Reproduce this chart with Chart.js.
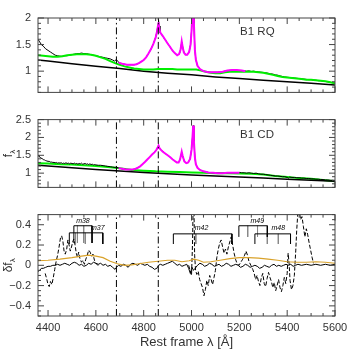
<!DOCTYPE html>
<html><head><meta charset="utf-8">
<script src="https://cdn.jsdelivr.net/npm/chart.js@4/dist/chart.umd.min.js"></script>
<style>
html,body{margin:0;padding:0;background:#fff;}
#wrap{position:relative;width:354px;height:354px;background:#fff;overflow:hidden;}
canvas{position:absolute;left:0;}
</style></head><body>
<div id="wrap">
<canvas id="c1" width="354" height="106" style="top:0px"></canvas>
<canvas id="c2" width="354" height="95" style="top:106px"></canvas>
<canvas id="c3" width="354" height="153" style="top:201px"></canvas>
</div>
<script>
// ---------- DATA ----------
const xRange = [4358, 5600];
const xTicks = [4400, 4600, 4800, 5000, 5200, 5400, 5600];
const refLines = [4686, 4861];               // He II, H beta
const panelLabels = ['B1 RQ', 'B1 CD'];
const panelLabelPos = [[5203, 1.68], [5203, 1.99]];

const topRange = [0.6, 2.0];
const topTicks = [1, 1.5, 2];
const topTickLabels = ['1', '1.5', '2'];
const midRange = [0.6, 2.5];
const midTicks = [1, 1.5, 2, 2.5];
const midTickLabels = ['1', '1.5', '2', '2.5'];
const botRange = [-0.5, 0.5];
const botTicks = [-0.4, -0.2, 0, 0.2, 0.4];
const botTickLabels = ['\u22120.4', '\u22120.2', '0', '0.2', '0.4'];

// B1 RQ panel
const rqObserved = [[4358,1.60],[4365,1.55],[4372,1.50],[4380,1.47],[4390,1.42],[4400,1.39],[4410,1.36],[4420,1.33],[4430,1.30],[4440,1.29],[4450,1.28],[4460,1.28],[4470,1.29],[4480,1.29],[4490,1.30],[4500,1.31],[4510,1.32],[4520,1.33],[4530,1.33],[4540,1.34],[4550,1.33],[4560,1.33],[4570,1.32],[4580,1.31],[4590,1.30],[4600,1.29],[4610,1.28],[4620,1.27],[4630,1.26],[4640,1.25],[4650,1.24],[4660,1.23],[4670,1.21],[4678,1.19],[4686,1.22],[4692,1.18],[4700,1.15],[4710,1.14],[4720,1.13],[4730,1.12],[4740,1.12],[4750,1.12],[4760,1.12],[4770,1.13],[4780,1.15],[4790,1.18],[4800,1.21],[4810,1.26],[4820,1.33],[4830,1.41],[4840,1.51],[4850,1.64],[4856,1.76],[4860,1.88],[4862,1.97],[4864,1.85],[4868,1.73],[4875,1.69],[4885,1.62],[4895,1.56],[4905,1.49],[4915,1.42],[4925,1.36],[4935,1.32],[4942,1.30],[4950,1.33],[4955,1.42],[4959,1.55],[4962,1.48],[4968,1.36],[4975,1.31],[4982,1.31],[4990,1.36],[4996,1.50],[5000,1.75],[5004,2.10],[5007,2.50],[5010,1.90],[5014,1.40],[5018,1.22],[5025,1.10],[5035,1.04],[5050,1.00],[5070,0.98],[5090,0.98],[5110,0.98],[5130,0.99],[5150,1.01],[5170,1.02],[5190,1.01],[5210,1.01],[5230,1.00],[5240,1.005],[5250,0.995],[5260,1.00],[5270,0.99],[5280,0.985],[5290,0.98],[5300,0.975],[5310,0.97],[5320,0.96],[5330,0.95],[5340,0.945],[5350,0.93],[5360,0.925],[5370,0.91],[5380,0.90],[5390,0.89],[5400,0.885],[5410,0.88],[5420,0.875],[5430,0.87],[5440,0.865],[5450,0.86],[5460,0.855],[5470,0.85],[5480,0.845],[5490,0.84],[5500,0.84],[5510,0.83],[5520,0.83],[5530,0.82],[5540,0.82],[5550,0.81],[5560,0.805],[5570,0.80],[5580,0.79],[5590,0.78],[5600,0.77]];
const rqFit = [[4695,1.16],[4710,1.14],[4720,1.13],[4730,1.12],[4745,1.12],[4760,1.12],[4770,1.13],[4780,1.15],[4790,1.18],[4800,1.21],[4810,1.26],[4820,1.33],[4830,1.41],[4840,1.51],[4850,1.63],[4856,1.75],[4860,1.86],[4862,1.92],[4865,1.80],[4870,1.72],[4880,1.66],[4890,1.59],[4900,1.52],[4910,1.46],[4920,1.39],[4930,1.34],[4940,1.30],[4948,1.32],[4954,1.40],[4959,1.56],[4963,1.45],[4968,1.35],[4975,1.31],[4982,1.31],[4990,1.36],[4996,1.50],[5000,1.75],[5004,2.10],[5007,2.60],[5010,1.90],[5014,1.40],[5018,1.22],[5025,1.10],[5035,1.04],[5050,1.00],[5070,0.98],[5090,0.98],[5110,0.98],[5130,0.99],[5150,1.01],[5170,1.02],[5190,1.02],[5210,1.01],[5225,1.00]];
const rqFeII = [[4358,1.30],[4380,1.29],[4400,1.28],[4420,1.27],[4440,1.27],[4460,1.28],[4480,1.30],[4500,1.31],[4520,1.32],[4540,1.32],[4560,1.32],[4580,1.31],[4600,1.29],[4620,1.26],[4640,1.23],[4660,1.19],[4680,1.15],[4700,1.12],[4720,1.09],[4740,1.07],[4760,1.05],[4780,1.04],[4800,1.03],[4820,1.03],[4840,1.03],[4860,1.04],[4880,1.04],[4900,1.04],[4920,1.04],[4940,1.03],[4960,1.03],[4980,1.03],[5000,1.03],[5020,1.03],[5040,1.01],[5060,0.99],[5080,0.97],[5100,0.96],[5120,0.96],[5140,0.98],[5160,0.99],[5180,0.99],[5200,0.99],[5220,0.99],[5240,0.99],[5260,0.99],[5280,0.98],[5300,0.97],[5320,0.95],[5340,0.93],[5360,0.91],[5380,0.89],[5400,0.88],[5420,0.87],[5440,0.86],[5460,0.85],[5480,0.84],[5500,0.84],[5520,0.83],[5540,0.82],[5560,0.81],[5580,0.79],[5600,0.77]];
const rqContinuum = [[4358,1.21],[4400,1.19],[4500,1.14],[4600,1.09],[4700,1.05],[4800,1.00],[4900,0.96],[5000,0.93],[5100,0.89],[5200,0.86],[5300,0.83],[5400,0.80],[5500,0.77],[5600,0.74]];

// B1 CD panel
const cdObserved = [[4358,1.50],[4362,1.47],[4366,1.45],[4370,1.42],[4375,1.41],[4380,1.38],[4385,1.37],[4390,1.35],[4395,1.34],[4400,1.33],[4405,1.33],[4410,1.31],[4415,1.31],[4420,1.30],[4425,1.30],[4430,1.29],[4435,1.30],[4440,1.28],[4445,1.29],[4450,1.28],[4455,1.29],[4460,1.27],[4465,1.28],[4470,1.27],[4475,1.29],[4480,1.27],[4485,1.28],[4490,1.26],[4495,1.28],[4500,1.27],[4505,1.26],[4510,1.28],[4515,1.26],[4520,1.27],[4525,1.25],[4530,1.27],[4535,1.26],[4540,1.28],[4545,1.25],[4550,1.26],[4555,1.27],[4560,1.25],[4565,1.26],[4570,1.24],[4575,1.26],[4580,1.24],[4585,1.25],[4590,1.23],[4595,1.24],[4600,1.23],[4610,1.22],[4620,1.22],[4630,1.21],[4640,1.20],[4650,1.19],[4660,1.18],[4670,1.17],[4680,1.16],[4686,1.17],[4695,1.14],[4710,1.12],[4720,1.11],[4730,1.10],[4740,1.10],[4750,1.10],[4760,1.11],[4770,1.13],[4780,1.17],[4790,1.22],[4800,1.28],[4810,1.34],[4820,1.41],[4830,1.48],[4840,1.55],[4850,1.62],[4856,1.68],[4860,1.74],[4863,1.77],[4866,1.70],[4872,1.65],[4880,1.61],[4890,1.55],[4900,1.50],[4910,1.45],[4920,1.39],[4930,1.34],[4938,1.30],[4946,1.30],[4952,1.38],[4959,1.58],[4963,1.48],[4970,1.33],[4978,1.28],[4986,1.30],[4994,1.40],[5000,1.65],[5004,2.00],[5007,2.33],[5010,1.90],[5014,1.45],[5018,1.25],[5025,1.15],[5035,1.09],[5050,1.05],[5070,1.02],[5090,1.01],[5110,1.00],[5130,1.00],[5150,1.01],[5170,1.01],[5190,1.01],[5200,1.02],[5210,1.01],[5220,1.01],[5230,1.00],[5240,1.01],[5250,1.00],[5260,0.99],[5270,1.00],[5280,0.98],[5290,0.97],[5300,0.97],[5310,0.96],[5320,0.95],[5330,0.94],[5340,0.93],[5350,0.92],[5360,0.92],[5370,0.91],[5380,0.90],[5390,0.90],[5400,0.88],[5405,0.86],[5410,0.89],[5420,0.88],[5430,0.88],[5440,0.87],[5450,0.87],[5460,0.86],[5470,0.86],[5480,0.85],[5490,0.85],[5500,0.84],[5510,0.84],[5520,0.83],[5530,0.83],[5540,0.82],[5550,0.82],[5560,0.81],[5570,0.81],[5580,0.80],[5590,0.80],[5600,0.79]];
const cdFit = [[4695,1.14],[4710,1.12],[4725,1.10],[4740,1.10],[4755,1.10],[4765,1.12],[4775,1.15],[4785,1.19],[4795,1.25],[4805,1.31],[4815,1.38],[4825,1.45],[4835,1.52],[4845,1.58],[4852,1.64],[4858,1.71],[4862,1.77],[4866,1.70],[4872,1.65],[4880,1.60],[4890,1.55],[4900,1.50],[4910,1.45],[4920,1.39],[4930,1.34],[4938,1.30],[4946,1.30],[4952,1.38],[4959,1.60],[4963,1.48],[4970,1.33],[4978,1.28],[4986,1.30],[4994,1.40],[5000,1.65],[5004,2.00],[5007,2.33],[5010,1.90],[5014,1.45],[5018,1.25],[5025,1.15],[5035,1.09],[5050,1.05],[5070,1.02],[5090,1.01],[5110,1.00],[5130,1.00],[5150,1.01],[5170,1.01],[5200,1.01]];
const cdFeII = [[4358,1.28],[4400,1.27],[4450,1.25],[4500,1.24],[4550,1.22],[4600,1.20],[4650,1.17],[4700,1.14],[4750,1.09],[4800,1.07],[4850,1.05],[4900,1.04],[4950,1.03],[5000,1.02],[5050,1.01],[5100,1.00],[5150,1.00],[5200,0.99],[5250,0.98],[5300,0.96],[5350,0.92],[5400,0.89],[5450,0.86],[5500,0.84],[5550,0.81],[5600,0.77]];
const cdContinuum = [[4358,1.22],[4400,1.20],[4500,1.15],[4600,1.10],[4700,1.06],[4800,1.02],[4900,0.98],[5000,0.95],[5100,0.92],[5200,0.89],[5300,0.86],[5400,0.83],[5500,0.80],[5600,0.77]];

// residual panel
const residSolid = [[4358,-0.06],[4365,-0.05],[4372,-0.03],[4380,-0.03],[4390,-0.02],[4400,-0.01],[4410,-0.01],[4420,0.00],[4430,0.00],[4440,0.01],[4450,0.00],[4460,0.01],[4470,0.02],[4480,0.01],[4490,0.00],[4500,0.02],[4510,0.03],[4520,0.02],[4530,0.00],[4540,0.01],[4550,-0.01],[4560,0.00],[4570,0.02],[4580,0.01],[4590,0.03],[4600,0.02],[4610,0.01],[4620,0.02],[4630,0.00],[4640,0.01],[4650,-0.01],[4660,0.00],[4670,-0.02],[4680,-0.04],[4686,-0.02],[4695,0.00],[4705,-0.01],[4715,0.01],[4725,0.00],[4735,-0.02],[4745,0.01],[4755,0.02],[4765,0.01],[4775,0.00],[4785,0.02],[4795,0.01],[4805,0.00],[4815,0.01],[4825,-0.01],[4835,-0.02],[4845,-0.04],[4855,-0.03],[4862,0.00],[4870,0.01],[4880,0.00],[4890,0.01],[4900,0.02],[4910,0.03],[4920,0.04],[4930,0.02],[4940,0.00],[4950,0.01],[4960,-0.01],[4970,0.00],[4980,0.01],[4988,-0.03],[4995,-0.08],[5002,-0.02],[5008,-0.05],[5015,-0.03],[5025,0.00],[5035,0.02],[5045,0.01],[5055,-0.01],[5065,0.00],[5075,0.02],[5085,0.01],[5095,-0.01],[5105,0.00],[5115,0.01],[5125,-0.01],[5135,0.00],[5145,0.02],[5155,0.01],[5165,-0.01],[5175,0.00],[5185,0.01],[5195,0.00],[5205,-0.02],[5215,-0.01],[5225,0.01],[5235,0.00],[5245,-0.02],[5255,-0.01],[5265,0.00],[5275,-0.01],[5285,-0.03],[5295,-0.02],[5305,0.00],[5315,-0.01],[5325,-0.02],[5335,0.00],[5345,0.01],[5355,-0.01],[5365,0.00],[5375,-0.01],[5385,0.00],[5395,0.01],[5405,0.00],[5415,0.01],[5425,-0.01],[5435,0.00],[5445,0.01],[5460,0.00],[5480,0.01],[5500,0.00],[5520,0.01],[5540,0.00],[5560,0.01],[5580,0.00],[5600,0.01]];
const residDashed = [[4388,-0.08],[4395,-0.14],[4400,-0.19],[4405,-0.21],[4410,-0.16],[4416,-0.19],[4422,-0.12],[4428,-0.04],[4434,0.04],[4440,0.10],[4446,0.18],[4452,0.27],[4457,0.29],[4462,0.24],[4467,0.14],[4472,0.11],[4478,0.16],[4483,0.25],[4488,0.20],[4493,0.14],[4498,0.18],[4503,0.23],[4508,0.26],[4513,0.20],[4518,0.12],[4523,0.08],[4528,0.13],[4533,0.07],[4540,0.03],[4546,0.05],[4552,0.01],[4558,0.06],[4564,0.10],[4570,0.15],[4576,0.13],[4582,0.09],[4588,0.11],[4594,0.05],[4600,0.02],[4608,0.00],[4616,0.01],[4620,null],[4988,0.00],[4994,-0.05],[5000,-0.10],[5004,0.20],[5007,0.60],[5010,0.60],[5013,0.10],[5017,-0.05],[5022,-0.09],[5028,-0.06],[5034,-0.14],[5040,-0.18],[5046,-0.22],[5052,-0.30],[5058,-0.24],[5064,-0.15],[5070,-0.20],[5076,-0.10],[5082,-0.14],[5088,-0.19],[5094,-0.12],[5100,-0.05],[5106,0.08],[5112,0.16],[5118,0.22],[5124,0.25],[5130,0.18],[5136,0.12],[5142,0.16],[5148,0.11],[5154,0.18],[5160,0.23],[5166,0.28],[5172,0.20],[5178,0.12],[5184,0.06],[5190,0.02],[5198,0.00],[5206,0.03],[5214,0.06],[5222,0.10],[5228,0.14],[5234,0.10],[5240,0.04],[5248,0.00],[5256,-0.04],[5262,-0.08],[5268,-0.14],[5274,-0.10],[5280,-0.16],[5286,-0.20],[5292,-0.12],[5298,-0.08],[5304,-0.18],[5310,-0.21],[5316,-0.13],[5322,-0.07],[5328,-0.12],[5334,-0.16],[5340,-0.22],[5346,-0.17],[5352,-0.25],[5358,-0.20],[5364,-0.14],[5370,-0.22],[5376,-0.26],[5382,-0.20],[5388,-0.12],[5394,-0.18],[5400,-0.08],[5404,0.12],[5408,0.02],[5412,-0.15],[5418,-0.24],[5424,-0.20],[5430,-0.10],[5436,0.15],[5440,0.35],[5444,0.50],[5450,0.55],[5456,0.45],[5462,0.48],[5468,0.38],[5474,0.28],[5480,0.36],[5486,0.30],[5492,0.22],[5498,0.15],[5504,0.08],[5510,0.02]];
const residModel = [[4358,0.045],[4400,0.05],[4450,0.06],[4500,0.075],[4540,0.09],[4570,0.10],[4600,0.09],[4630,0.075],[4660,0.04],[4690,0.015],[4720,0.00],[4750,0.005],[4780,0.015],[4820,0.03],[4860,0.04],[4900,0.05],[4930,0.05],[4960,0.035],[4990,0.045],[5010,0.06],[5030,0.05],[5050,0.03],[5080,0.035],[5120,0.05],[5160,0.065],[5200,0.075],[5240,0.075],[5280,0.07],[5320,0.06],[5360,0.05],[5400,0.035],[5440,0.03],[5480,0.03],[5520,0.035],[5560,0.03],[5600,0.02]];

// Fe II multiplets
const multName = ['m38', 'm37', 'm42', 'm49', 'm48'];
const multLines = [[4508,4523,4549,4584],[4489,4515,4556,4629],[4924,5018,5169],[5198,5235,5276,5317],[5265,5317,5363,5414]];
const multTop = [0.39, 0.32, 0.31, 0.39, 0.31];
const multBottom = [0.22, 0.21, 0.21, 0.28, 0.21];
const multLabelAt = [[4546,0.415],[4608,0.345],[5042,0.35],[5275,0.415],[5363,0.35]];

// ---------- RENDER ----------
const FONT = '"Liberation Sans", Arial, sans-serif';
const TXT = '#333';
Chart.defaults.font.family = FONT;

const pts = arr => arr.map(p => ({x: p[0], y: p[1]}));
function line(data, color, width, order, extra) {
  return Object.assign({data: data, borderColor: color, backgroundColor: color, borderWidth: width,
    showLine: true, pointRadius: 0, pointHoverRadius: 0, fill: false, tension: 0, spanGaps: false, order: order}, extra || {});
}
function refSets(r) {
  return refLines.map(l => line([{x: l, y: r[0]}, {x: l, y: r[1]}], '#000', 1, 0, {borderDash: [7, 3, 1.5, 3]}));
}

const framePlugin = {
  id: 'frame',
  afterDraw(chart, args, o) {
    const ctx = chart.ctx, a = chart.chartArea, xs = chart.scales.x, ys = chart.scales.y;
    ctx.save();
    ctx.strokeStyle = '#444'; ctx.lineWidth = 1;
    ctx.strokeRect(a.left, a.top, a.right - a.left, a.bottom - a.top);
    ctx.beginPath();
    const walk = (s, minor, major, fn) => {
      const n0 = Math.ceil(s.min / minor - 1e-9), n1 = Math.floor(s.max / minor + 1e-9);
      for (let n = n0; n <= n1; n++) {
        const v = n * minor, r = v / major;
        fn(s.getPixelForValue(v), Math.abs(r - Math.round(r)) < 1e-6 ? 6 : 3);
      }
    };
    walk(xs, o.xMinor, o.xMajor, (p, l) => { ctx.moveTo(p, a.bottom); ctx.lineTo(p, a.bottom - l); ctx.moveTo(p, a.top); ctx.lineTo(p, a.top + l); });
    walk(ys, o.yMinor, o.yMajor, (p, l) => { ctx.moveTo(a.left, p); ctx.lineTo(a.left + l, p); ctx.moveTo(a.right, p); ctx.lineTo(a.right - l, p); });
    ctx.stroke();
    ctx.restore();
  }
};

const textPlugin = {
  id: 'texts',
  afterDraw(chart, args, o) {
    const ctx = chart.ctx, a = chart.chartArea, xs = chart.scales.x, ys = chart.scales.y;
    ctx.save();
    ctx.fillStyle = TXT; ctx.textBaseline = 'alphabetic';
    if (o.panel) {
      ctx.font = '11.5px ' + FONT; ctx.textAlign = 'left';
      ctx.fillText(o.panel, xs.getPixelForValue(o.panelAt[0]), ys.getPixelForValue(o.panelAt[1]));
    }
    if (o.mult) {
      ctx.font = 'italic 7px ' + FONT; ctx.textAlign = 'center';
      ctx.fillStyle = '#000';
      multName.forEach((n, i) => ctx.fillText(n, xs.getPixelForValue(multLabelAt[i][0]), ys.getPixelForValue(multLabelAt[i][1])));
      ctx.fillStyle = TXT;
    }
    if (o.ytitle) {
      const cy = (a.top + a.bottom) / 2;
      ctx.translate(o.ytitle.x, cy); ctx.rotate(-Math.PI / 2);
      ctx.font = '12px ' + FONT; const w1 = ctx.measureText(o.ytitle.main).width;
      ctx.font = '8px ' + FONT; const w2 = ctx.measureText(o.ytitle.sub).width;
      const t = w1 + w2; ctx.textAlign = 'left';
      ctx.font = '12px ' + FONT; ctx.fillText(o.ytitle.main, -t / 2, 0);
      ctx.font = '8px ' + FONT; ctx.fillText(o.ytitle.sub, -t / 2 + w1, 3);
    }
    ctx.restore();
  }
};

function makeChart(id, datasets, yr, yt, yl, yMinor, yMajor, showX, pad, textOpts) {
  return new Chart(document.getElementById(id), {
    type: 'scatter',
    data: {datasets: datasets},
    plugins: [framePlugin, textPlugin],
    options: {
      responsive: false, animation: false, events: [],
      layout: {padding: pad},
      plugins: {legend: {display: false}, tooltip: {enabled: false},
        frame: {xMinor: 50, xMajor: 200, yMinor: yMinor, yMajor: yMajor},
        texts: textOpts},
      scales: {
        x: {type: 'linear', min: xRange[0], max: xRange[1], display: showX,
          afterBuildTicks: s => { s.ticks = xTicks.map(v => ({value: v})); },
          afterFit: s => { if (showX) s.height = 38; },
          grid: {display: false, drawTicks: false}, border: {display: false},
          ticks: {color: TXT, font: {family: FONT, size: 11}, padding: 5, maxRotation: 0, autoSkip: false, callback: v => String(v)},
          title: {display: showX, text: 'Rest frame \u03bb [\u00c5]', color: TXT, font: {family: FONT, size: 13}, padding: {top: 0, bottom: 4}}
        },
        y: {type: 'linear', min: yr[0], max: yr[1],
          afterBuildTicks: s => { s.ticks = yt.map(v => ({value: v})); },
          afterFit: s => { s.width = 38; },
          grid: {display: false, drawTicks: false}, border: {display: false},
          ticks: {color: TXT, font: {family: FONT, size: 11}, padding: 7, callback: v => { const i = yt.findIndex(t => Math.abs(t - v) < 1e-9); return i >= 0 ? yl[i] : ''; }}
        }
      }
    }
  });
}

const MAG = '#ff00ff', GRN = '#00ee00', ORG = '#d9a22a';

makeChart('c1', [
  ...refSets(topRange),
  line(pts(rqFit), MAG, 2, 1),
  line(pts(rqFeII), GRN, 2, 2),
  line(pts(rqObserved), '#000', 1, 3),
  line(pts(rqContinuum), '#000', 1.5, 2)
], topRange, topTicks, topTickLabels, 0.1, 0.5, false, {left: 0, right: 19, top: 18, bottom: 1},
  {panel: panelLabels[0], panelAt: panelLabelPos[0]});

makeChart('c2', [
  ...refSets(midRange),
  line(pts(cdFit), MAG, 2, 1),
  line(pts(cdObserved), '#000', 1, 2),
  line(pts(cdFeII), GRN, 2, 3),
  line(pts(cdContinuum), '#000', 1.5, 2)
], midRange, midTicks, midTickLabels, 0.1, 0.5, false, {left: 0, right: 19, top: 5, bottom: 1},
  {panel: panelLabels[1], panelAt: panelLabelPos[1], ytitle: {x: 12, main: 'f', sub: '\u03bb'}});

const multSets = [];
multName.forEach((n, i) => {
  const L = multLines[i], top = multTop[i], bot = multBottom[i];
  const inner = [];
  L.slice(1, -1).forEach(l => { inner.push({x: l, y: top}, {x: l, y: bot}, {x: l, y: null}); });
  multSets.push(line(inner, '#888', 1, 1));
  multSets.push(line([{x: L[0], y: bot}, {x: L[0], y: top}, {x: L[L.length - 1], y: top}, {x: L[L.length - 1], y: bot}], '#000', 1, 0));
});

makeChart('c3', [
  ...refSets(botRange),
  ...multSets,
  line(pts(residModel), ORG, 1.2, 2),
  line(pts(residSolid), '#000', 1, 3),
  line(pts(residDashed), '#000', 1, 4, {borderDash: [4, 2]})
], botRange, botTicks, botTickLabels, 0.05, 0.2, true, {left: 0, right: 19, top: 4, bottom: 0},
  {mult: true, ytitle: {x: 12, main: '\u03b4f', sub: '\u03bb'}});
</script>
</body></html>
